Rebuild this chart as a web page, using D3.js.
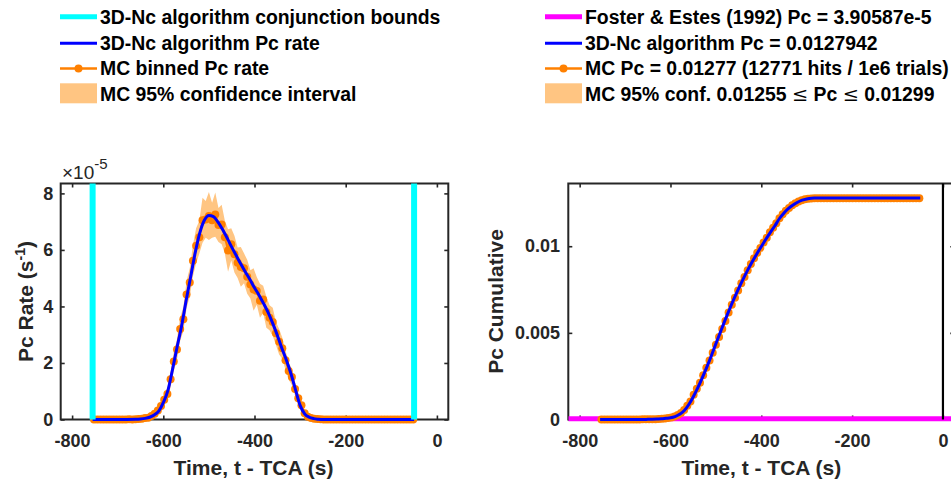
<!DOCTYPE html>
<html><head><meta charset="utf-8">
<script src="https://cdn.jsdelivr.net/npm/d3@7"></script>
<style>
body{margin:0;background:#fff}
svg{display:block}
text{font-family:"Liberation Sans",Arial,Helvetica,sans-serif;}
</style>
</head><body>
<svg id="c" width="951" height="482"></svg>
<script>
// ---------------- DATA ----------------
const xTicks = [-800, -600, -400, -200, 0];
const rateTicks = [0, 2, 4, 6, 8];          // units of 1e-5 s^-1
const cumTicks = [0, 0.005, 0.01];
const conjBounds = [-755, -50];
const fosterPc = 3.90587e-5;

// 3D-Nc algorithm curves
const ncTime = [-755,-700,-660,-650,-640,-630,-620,-610,-600,-590,-580,-570,-560,-550,-540,-530,-520,-510,-500,-490,-480,-470,-460,-450,-440,-430,-420,-410,-400,-390,-380,-370,-360,-350,-340,-330,-320,-310,-300,-290,-280,-270,-260,-250,-50];
const ncRate = [0,0,0.01,0.02,0.04,0.08,0.16,0.3,0.6,1.02,1.75,2.55,3.3,4.2,5.05,5.9,6.6,7.05,7.22,7.18,6.98,6.72,6.42,6.1,5.8,5.5,5.22,4.95,4.66,4.4,4.1,3.78,3.4,2.98,2.52,2.1,1.62,1.05,0.5,0.2,0.08,0.03,0.01,0,0];
const ncCum = [0,0,0,0.00001,0.00002,0.00003,0.00004,0.00007,0.0001,0.00017,0.0003,0.0005,0.00085,0.0013,0.00182,0.0024,0.00302,0.00368,0.00437,0.00505,0.00572,0.00636,0.00697,0.00755,0.0081,0.00862,0.0091,0.00955,0.00998,0.0104,0.0108,0.01118,0.0116,0.01192,0.01218,0.01238,0.01254,0.01266,0.01273,0.01277,0.01278,0.01279,0.01279,0.01279,0.01279];

// Monte Carlo bins
const mcTime = [-752,-745,-738,-731,-724,-717,-710,-703,-696,-689,
-682,-675,-668,-661,-654,-647,-640,-633,-626,-619,
-612,-605,-598,-591,-584,-577,-570,-563,-556,-549,
-542,-535,-528,-521,-514,-507,-500,-493,-486,-479,
-472,-465,-458,-451,-444,-437,-430,-423,-416,-409,
-402,-395,-388,-381,-374,-367,-360,-353,-346,-339,
-332,-325,-318,-311,-304,-297,-290,-283,-276,-269,
-262,-255,-248,-241,-234,-227,-220,-213,-206,-199,
-192,-185,-178,-171,-164,-157,-150,-143,-136,-129,
-122,-115,-108,-101,-94,-87,-80,-73,-66,-59,
-52];
const mcRate = [0,0,0,0,0,0,0,0,0,0,
0,0.01,0,0.01,0.02,0.03,0.05,0.06,0.12,0.2,
0.32,0.48,0.7,0.9,1.42,2.05,2.48,3.2,3.55,4.42,
4.85,5.62,6.15,6.45,7.05,7.08,7.2,7.05,7.25,6.88,
6.9,6.45,5.98,6.2,5.85,5.55,5.4,5.35,5.05,4.78,
4.6,4.55,4.2,4.25,3.8,3.6,3.45,3.05,2.75,2.52,
2.1,1.72,1.5,1.08,0.75,0.5,0.22,0.1,0.05,0.03,
0.02,0.01,0,0,0,0,0,0,0,0,
0,0,0,0,0,0,0,0,0,0,
0,0,0,0,0,0,0,0,0,0,
0];
const mcCiHalf = [0,0,0,0,0,0,0,0,0,0,
0,0.02,0,0.02,0.03,0.04,0.05,0.06,0.08,0.1,
0.13,0.16,0.19,0.22,0.27,0.33,0.36,0.41,0.43,0.48,
0.5,0.55,0.62,0.58,0.8,0.65,0.85,0.62,0.78,0.6,
0.7,0.58,0.75,0.57,0.65,0.54,0.7,0.53,0.6,0.5,
0.75,0.49,0.6,0.48,0.55,0.44,0.5,0.41,0.45,0.37,
0.34,0.31,0.28,0.24,0.2,0.16,0.11,0.07,0.05,0.04,
0.03,0.02,0,0,0,0,0,0,0,0,
0,0,0,0,0,0,0,0,0,0,
0,0,0,0,0,0,0,0,0,0,
0];
const mcCum = [0,0,0,0,0,0,0,0,0,0,
0,0,0,0.00001,0.00001,0.00001,0.00002,0.00002,0.00003,0.00004,
0.00006,0.00009,0.00012,0.00017,0.00026,0.00038,0.00055,0.0008,0.00104,0.00143,
0.00178,0.00212,0.00255,0.00298,0.0034,0.00385,0.00432,0.00476,0.00522,0.00569,
0.00617,0.00662,0.00703,0.00745,0.00786,0.00823,0.00862,0.00897,0.0093,0.00962,
0.0099,0.01021,0.01049,0.0108,0.01107,0.01133,0.01161,0.01184,0.01205,0.01221,
0.01236,0.01248,0.01258,0.01266,0.01271,0.01274,0.01276,0.01277,0.01277,0.01277,
0.01277,0.01277,0.01277,0.01277,0.01277,0.01277,0.01277,0.01277,0.01277,0.01277,
0.01277,0.01277,0.01277,0.01277,0.01277,0.01277,0.01277,0.01277,0.01277,0.01277,
0.01277,0.01277,0.01277,0.01277,0.01277,0.01277,0.01277,0.01277,0.01277,0.01277,
0.01277];

const legendLeft = ["3D-Nc algorithm conjunction bounds","3D-Nc algorithm Pc rate","MC binned Pc rate","MC 95% confidence interval"];
const legendRight = ["Foster & Estes (1992) Pc = 3.90587e-5","3D-Nc algorithm Pc = 0.0127942","MC Pc = 0.01277 (12771 hits / 1e6 trials)","MC 95% conf. 0.01255 ", " Pc ", " 0.01299"];

// ---------------- STYLE ----------------
const C = {axis:"#262626", cyan:"#00FFFF", blue:"#0000FF", orange:"#FF8000", ci:"#FFC582", magenta:"#FF00FF"};
const svg = d3.select("#c");
const TOP = 183.5, BOT = 419.5;
const TICKFONT = 18, LEGFONT = 19.4;

const xL = d3.scaleLinear().domain([-825, 25]).range([60.7, 448.3]);
const yL = d3.scaleLinear().domain([0, 8.35]).range([BOT, TOP]);
const xR = d3.scaleLinear().domain([-825, 25]).range([568.3, 954.3]);
const yR = d3.scaleLinear().domain([0, 0.01362]).range([BOT, TOP]);

function frame(x, y, yt, yfmt, ypad) {
  const g = svg.append("g");
  const [x0, x1] = x.range(), [y0, y1] = y.range();
  g.append("rect").attr("x", x0).attr("y", y1).attr("width", x1 - x0).attr("height", y0 - y1)
    .attr("fill", "none").attr("stroke", C.axis).attr("stroke-width", 2);
  const style = s => {
    s.select(".domain").remove();
    s.selectAll(".tick line").attr("stroke", C.axis).attr("stroke-width", 1.6);
    s.selectAll(".tick text").attr("fill", C.axis).attr("font-size", TICKFONT).attr("font-weight", "bold")
      .attr("font-family", '"Liberation Sans",Arial,sans-serif');
  };
  g.append("g").attr("transform", `translate(0,${y0})`)
    .call(d3.axisBottom(x).tickValues(xTicks).tickSize(-4).tickPadding(14.8).tickFormat(d => String(d))).call(style);
  g.append("g").attr("transform", `translate(0,${y1})`)
    .call(d3.axisTop(x).tickValues(xTicks).tickSize(-4).tickFormat("")).call(style);
  g.append("g").attr("transform", `translate(${x0},0)`)
    .call(d3.axisLeft(y).tickValues(yt).tickSize(-4).tickPadding(ypad).tickFormat(yfmt)).call(style);
  g.append("g").attr("transform", `translate(${x1},0)`)
    .call(d3.axisRight(y).tickValues(yt).tickSize(-4).tickFormat("")).call(style);
  return g;
}

// ---------------- LEFT PLOT ----------------
frame(xL, yL, rateTicks, d => String(d), 7.4);

const ciArea = d3.area().x((d, i) => xL(mcTime[i]))
  .y0((d, i) => yL(Math.max(0, mcRate[i] - mcCiHalf[i])))
  .y1((d, i) => yL(mcRate[i] + mcCiHalf[i]));
svg.append("path").attr("d", ciArea(mcTime)).attr("fill", C.ci).attr("stroke", "none");

const mcLineL = d3.line().x((d, i) => xL(mcTime[i])).y((d, i) => yL(mcRate[i]));
svg.append("path").attr("d", mcLineL(mcTime)).attr("fill", "none").attr("stroke", C.orange).attr("stroke-width", 2);
svg.append("g").selectAll("circle").data(mcTime).join("circle")
  .attr("cx", (d) => xL(d)).attr("cy", (d, i) => yL(mcRate[i])).attr("r", 4).attr("fill", C.orange);

const ncLineL = d3.line().x((d, i) => xL(ncTime[i])).y((d, i) => yL(ncRate[i])).curve(d3.curveMonotoneX);
svg.append("path").attr("d", ncLineL(ncTime)).attr("fill", "none").attr("stroke", C.blue).attr("stroke-width", 3);

svg.append("g").selectAll("line").data(conjBounds).join("line")
  .attr("x1", d => xL(d)).attr("x2", d => xL(d)).attr("y1", TOP).attr("y2", BOT)
  .attr("stroke", C.cyan).attr("stroke-width", 6);

// exponent label
const ex = svg.append("text").attr("x", 62).attr("y", 179).attr("fill", C.axis).attr("font-size", 19);
ex.append("tspan").text("×10");
ex.append("tspan").attr("font-size", 15).attr("dy", -10).text("-5");

// axis labels
svg.append("text").attr("x", 253.5).attr("y", 475).attr("text-anchor", "middle")
  .attr("font-size", 21).attr("font-weight", "bold").attr("fill", C.axis).text("Time, t - TCA (s)");
const yl = svg.append("text").attr("transform", "translate(33,301.5) rotate(-90)").attr("text-anchor", "middle")
  .attr("font-size", 21).attr("font-weight", "bold").attr("fill", C.axis);
yl.append("tspan").text("Pc Rate (s");
yl.append("tspan").attr("font-size", 14).attr("dy", -8).text("-1");
yl.append("tspan").attr("dy", 8).text(")");

// ---------------- RIGHT PLOT ----------------
frame(xR, yR, cumTicks, d => d === 0 ? "0" : String(d), 8.3);

svg.append("defs").append("clipPath").attr("id", "clipR").append("rect")
  .attr("x", xR.range()[0]).attr("y", TOP - 5).attr("width", xR.range()[1] - xR.range()[0]).attr("height", BOT - TOP + 10);
svg.append("line").attr("clip-path", "url(#clipR)")
  .attr("x1", xR(-825)).attr("x2", xR(25)).attr("y1", yR(fosterPc)).attr("y2", yR(fosterPc))
  .attr("stroke", C.magenta).attr("stroke-width", 5);

const mcLineR = d3.line().x((d, i) => xR(mcTime[i])).y((d, i) => yR(mcCum[i]));
svg.append("path").attr("d", mcLineR(mcTime)).attr("fill", "none").attr("stroke", C.orange).attr("stroke-width", 2);
svg.append("g").selectAll("circle").data(mcTime).join("circle")
  .attr("cx", d => xR(d)).attr("cy", (d, i) => yR(mcCum[i])).attr("r", 4).attr("fill", C.orange);

const ncLineR = d3.line().x((d, i) => xR(ncTime[i])).y((d, i) => yR(ncCum[i])).curve(d3.curveMonotoneX);
svg.append("path").attr("d", ncLineR(ncTime)).attr("fill", "none").attr("stroke", C.blue).attr("stroke-width", 3);

svg.append("line").attr("x1", xR(0)).attr("x2", xR(0)).attr("y1", TOP).attr("y2", BOT)
  .attr("stroke", "#000").attr("stroke-width", 2.2);

svg.append("text").attr("x", 761.3).attr("y", 475).attr("text-anchor", "middle")
  .attr("font-size", 21).attr("font-weight", "bold").attr("fill", C.axis).text("Time, t - TCA (s)");
svg.append("text").attr("transform", "translate(503,301.5) rotate(-90)").attr("text-anchor", "middle")
  .attr("font-size", 21).attr("font-weight", "bold").attr("fill", C.axis).text("Pc Cumulative");

// ---------------- LEGENDS ----------------
const rowsY = [16.7, 43.3, 68.5, 93.3];
const baseY = [23.5, 49.5, 75.2, 101];
function legend(x0, x1, firstColor) {
  const g = svg.append("g");
  g.append("line").attr("x1", x0).attr("x2", x1).attr("y1", rowsY[0]).attr("y2", rowsY[0]).attr("stroke", firstColor).attr("stroke-width", 5);
  g.append("line").attr("x1", x0).attr("x2", x1).attr("y1", rowsY[1]).attr("y2", rowsY[1]).attr("stroke", C.blue).attr("stroke-width", 3);
  g.append("line").attr("x1", x0).attr("x2", x1).attr("y1", rowsY[2]).attr("y2", rowsY[2]).attr("stroke", C.orange).attr("stroke-width", 2.5);
  g.append("circle").attr("cx", (x0 + x1) / 2).attr("cy", rowsY[2]).attr("r", 4).attr("fill", C.orange);
  g.append("rect").attr("x", x0).attr("y", 83.3).attr("width", x1 - x0).attr("height", 20).attr("fill", C.ci);
  return g;
}
legend(60, 97, C.cyan);
legendLeft.forEach((t, i) => {
  svg.append("text").attr("x", 100).attr("y", baseY[i]).attr("font-size", LEGFONT).attr("font-weight", "bold").attr("fill", "#000").text(t);
});
legend(545, 582, C.magenta);
for (let i = 0; i < 3; i++) {
  svg.append("text").attr("x", 585).attr("y", baseY[i]).attr("font-size", LEGFONT).attr("font-weight", "bold").attr("fill", "#000").text(legendRight[i]);
}
const t4 = svg.append("text").attr("x", 585).attr("y", baseY[3]).attr("font-size", LEGFONT).attr("font-weight", "bold").attr("fill", "#000");
t4.append("tspan").text(legendRight[3]);
t4.append("tspan").attr("font-weight", "normal").attr("font-family", '"DejaVu Serif",serif').text("≤");
t4.append("tspan").text(legendRight[4]);
t4.append("tspan").attr("font-weight", "normal").attr("font-family", '"DejaVu Serif",serif').text("≤");
t4.append("tspan").text(legendRight[5]);
</script>
</body></html>
